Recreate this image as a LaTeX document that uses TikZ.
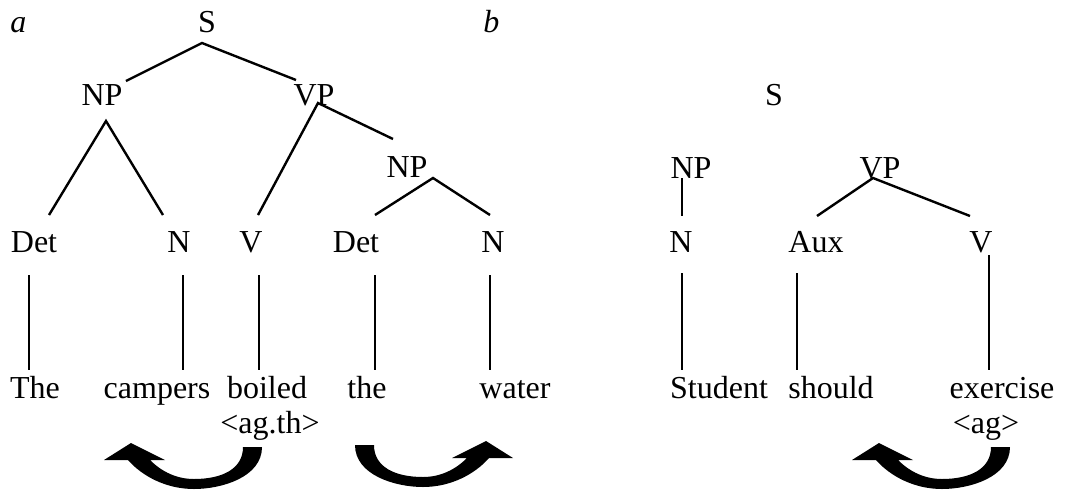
\documentclass[tikz,border=0pt]{standalone}
\usepackage{fontspec}
\setmainfont{Liberation Serif}
\usetikzlibrary{positioning}

\tikzset{
  pics/turnarrow/.style={code={
      \fill (0,0) .. controls (0,30) and (-40,42) .. (-68,42)
        .. controls (-96,42) and (-120,29) .. (-134,13)
        -- (-158,13) -- (-131,-4) -- (-97,13) -- (-112,13)
        .. controls (-100,25) and (-85,32) .. (-68,32)
        .. controls (-40,32) and (-19,22) .. (-19,0) -- cycle;
  }}
}

\begin{document}
\begin{tikzpicture}[
    x=0.5pt, y=-0.5pt,
    lbl/.style={inner sep=0pt, anchor=base,
                font=\fontsize{16}{19}\selectfont},
    tag/.style={lbl, anchor=base west, font=\fontsize{16}{19}\selectfont\itshape},
    br/.style={line width=1.2pt},
  ]
  \useasboundingbox (0,0) rectangle (1066,489);

  \node[tag] (pa) at (10,32)  {a};
  \node[tag] (pb) at (483,32) {b};

  \node[lbl] (s1)  at (207,32)  {S};
  \node[lbl] (np1) at (102,105) {NP};
  \node[lbl] (vp1) at (314,105) {VP};
  \node[lbl] (np2) at (407,177) {NP};
  \node[lbl] (det1) at (34,252)  {Det};
  \node[lbl] (n1)   at (179,252) {N};
  \node[lbl] (v1)   at (251,252) {V};
  \node[lbl] (det2) at (356,252) {Det};
  \node[lbl] (n2)   at (493,252) {N};
  \node[lbl] (the1)    at (35,398)  {The};
  \node[lbl] (campers) at (157,398) {campers};
  \node[lbl] (boiled)  at (267,398) {boiled};
  \node[lbl] (the2)    at (367,398) {the};
  \node[lbl] (water)   at (515,398) {water};
  \node[lbl] (agth)    at (270,433) {<ag.th>};

  \node[lbl] (s2)  at (774,105) {S};
  \node[lbl] (np3) at (691,178) {NP};
  \node[lbl] (vp2) at (880,178) {VP};
  \node[lbl] (n3)  at (681,252) {N};
  \node[lbl] (aux) at (816,252) {Aux};
  \node[lbl] (v2)  at (981,252) {V};
  \node[lbl] (student)  at (719,398)  {Student};
  \node[lbl] (should)   at (831,398)  {should};
  \node[lbl] (exercise) at (1002,398) {exercise};
  \node[lbl] (ag)       at (986,433)  {<ag>};

  \draw[br] ([shift={(24,-24)}]np1.base) -- ([shift={(-5,11)}]s1.base)
            -- ([shift={(-18,-25)}]vp1.base);
  \draw[br] ([shift={(15,-37)}]det1.base) -- ([shift={(4,16)}]np1.base)
            -- ([shift={(-16,-37)}]n1.base);
  \draw[br] ([shift={(7,-37)}]v1.base) -- ([shift={(4,-2)}]vp1.base)
            -- ([shift={(-14,-38)}]np2.base);
  \draw[br] ([shift={(19,-37)}]det2.base) -- ([shift={(26,1)}]np2.base)
            -- ([shift={(-3,-37)}]n2.base);

  \draw[br] ([shift={(-9,0)}]np3.base) -- ([shift={(1,-36)}]n3.base);
  \draw[br] ([shift={(1,-36)}]aux.base) -- ([shift={(-7,0)}]vp2.base)
            -- ([shift={(-11,-36)}]v2.base);

  \foreach \lab/\wrd/\dl/\dt/\dw in {det1/the1/-5/23/-6, n1/campers/4/23/26,
      v1/boiled/8/23/-8, det2/the2/19/23/8, n2/water/-3/23/-25,
      n3/student/1/21/-37, aux/should/-19/21/-34, v2/exercise/8/3/-13}
    \draw[br] ([shift={(\dl,\dt)}]\lab.base) -- ([shift={(\dw,-28)}]\wrd.base);

  \pic at (262,447) {turnarrow};
  \pic[xscale=-1] at (355,445) {turnarrow};
  \pic at (1010,447) {turnarrow};
\end{tikzpicture}
\end{document}
